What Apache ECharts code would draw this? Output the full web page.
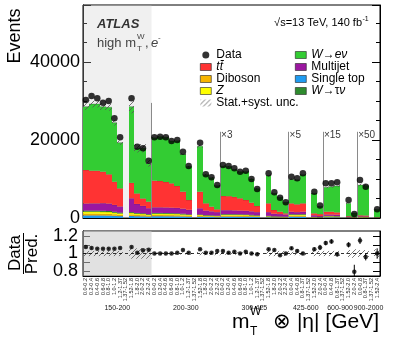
<!DOCTYPE html>
<html>
<head>
<meta charset="utf-8">
<title>high mT W, e- : events per mT x |eta| bin</title>
<script src="https://cdn.jsdelivr.net/npm/echarts@6/dist/echarts.min.js"></script>
<style>
  html, body { margin: 0; padding: 0; background: #fff; }
  #chart { width: 399px; height: 337px; }
</style>
</head>
<body>
<div id="chart"></div>
<script>
// |eta| bins inside each mT bin (the 1.37-1.52 crack is empty)
var etaA = ["0.0-0.2","0.2-0.4","0.4-0.6","0.6-0.8","0.8-1.0","1.0-1.2","1.2-1.37","1.37-1.52","1.52-1.8","1.8-2.0","2.0-2.2","2.2-2.4"];
var etaB = ["0.0-0.4","0.4-0.8","0.8-1.37","1.37-1.52","1.52-2.0","2.0-2.4"];
var etaC = ["0.0-0.8","0.8-1.37","1.37-1.52","1.52-2.4"];
var etaLabels = etaA.concat(etaA, etaA, etaB, etaB, etaC);

var mtLabels = ["150-200","200-300","300-425","425-600","600-900","900-2000"];
var mtCentres = [6, 18, 30, 39, 45, 50];
var scaleLabels = ["×3","×5","×15","×50"];
var scaleEdges = [24, 36, 42, 48];

// events (already multiplied by the factor shown on the plot)
var dataEvents = [
  30250,31280,30690,29560,30000,25560,20690,null,30690,18280,17870,14700,
  20690,20850,20690,19740,20000,17000,13330,null,19310,11200,10430,8460,
  13590,13330,12740,11870,12130,10000,7440,null,11460,6590,5210,4020,
  10590,10170,11460,null,6750,3200,
  8890,8890,9150,null,4610,1000,
  9740,8030,null,2230];

var wenu = [
  16240,17100,17100,16670,17180,15140,11710,null,19540,11570,12870,9820,
  11000,11360,11460,10850,11600,9610,8590,null,11650,7330,7430,6060,
  7680,7600,7090,6820,7280,6080,4440,null,7150,4290,3700,2820,
  6140,6290,7340,null,5130,2000,
  6250,6410,6750,null,3260,1060,
  7760,7650,null,2000];

var ttbar = [
  8600,8380,8380,8070,7500,5950,4650,null,3950,2700,1900,1700,
  6830,6750,6530,6240,5600,4340,2510,null,4250,1860,1200,730,
  3640,3600,3450,3150,2760,2220,1580,null,2260,950,620,300,
  2160,2010,2160,null,500,500,
  720,720,600,null,150,80,
  250,250,null,80];

var multijet = [
  1800,1850,1850,1950,1900,1750,1550,null,3550,2300,1900,1500,
  1440,1440,1420,1400,1400,1300,1150,null,1590,1150,1000,900,
  1000,1000,970,950,950,900,800,null,950,650,600,550,
  600,550,600,null,400,250,
  350,350,350,null,150,60,
  150,120,null,60];

var singleTop = [
  670,670,670,650,630,560,490,null,530,460,420,350,
  460,460,450,440,420,380,330,null,320,260,250,210,
  350,350,340,330,320,280,250,null,190,160,140,120,
  350,330,350,null,100,90,
  190,190,180,null,70,20,
  100,100,null,20];

var diboson = [
  420,420,420,410,400,350,310,null,330,290,260,220,
  290,290,280,280,260,240,210,null,200,170,150,130,
  220,220,220,210,200,180,150,null,120,100,90,80,
  220,210,220,null,70,50,
  120,120,110,null,40,10,
  70,60,null,10];

var zjets = [
  530,530,530,510,500,450,390,null,420,360,340,280,
  360,360,360,350,340,310,270,null,250,210,200,170,
  280,280,270,270,250,220,200,null,160,120,110,100,
  280,270,280,null,90,70,
  160,160,140,null,60,20,
  90,80,null,20];

var wtaunu = [
  280,280,280,280,270,240,210,null,220,190,180,150,
  190,190,190,180,180,170,140,null,130,110,100,90,
  150,150,150,140,130,120,100,null,80,70,60,50,
  150,140,150,null,40,40,
  80,80,70,null,30,10,
  40,40,null,10];

// relative stat.+syst. uncertainty of the prediction
var relUnc = [
  0.03,0.03,0.03,0.03,0.03,0.03,0.03,null,0.06,0.06,0.06,0.06,
  0.012,0.012,0.012,0.012,0.012,0.012,0.012,null,0.02,0.02,0.02,0.02,
  0.015,0.015,0.015,0.015,0.015,0.015,0.015,null,0.03,0.03,0.03,0.03,
  0.02,0.02,0.02,null,0.03,0.03,
  0.03,0.03,0.03,null,0.04,0.05,
  0.04,0.04,null,0.05];

// Data / Pred. panel
var ratio = [
  1.074,1.063,1.055,1.055,1.055,1.055,1.063,null,1.074,1.01,1.037,1.043,
  1.0,1.0,1.0,1.0,1.01,1.04,1.01,null,1.05,1.01,1.01,1.03,
  1.03,1.01,1.02,1.0,1.02,1.0,0.99,null,1.05,1.04,0.98,1.0,
  1.06,1.03,1.0,null,1.05,1.07,
  1.12,1.14,0.99,null,1.10,0.79,
  1.15,0.96,null,1.0];
var ratioErr = [
  0.006,0.006,0.006,0.006,0.006,0.006,0.006,null,0.006,0.006,0.006,0.006,
  0.007,0.007,0.007,0.007,0.007,0.007,0.007,null,0.007,0.007,0.007,0.007,
  0.01,0.01,0.01,0.01,0.01,0.01,0.01,null,0.01,0.01,0.01,0.01,
  0.015,0.015,0.015,null,0.02,0.03,
  0.025,0.025,0.025,null,0.03,0.08,
  0.04,0.04,null,0.06];

var FONT = "'Liberation Sans', Arial, Helvetica, sans-serif";

function hatch() {
  var c = document.createElement('canvas');
  c.width = 5; c.height = 5;
  var g = c.getContext('2d');
  g.strokeStyle = '#555';
  g.lineWidth = 0.8;
  g.beginPath();
  g.moveTo(0, 5); g.lineTo(5, 0);
  g.moveTo(-1, 1); g.lineTo(1, -1);
  g.moveTo(4, 6); g.lineTo(6, 4);
  g.stroke();
  return { image: c, repeat: 'repeat' };
}
var hatchFill = hatch();

// stack from the bottom up
var layers = [
  { name: 'Single top', values: singleTop, color: '#1f9bf0' },
  { name: 'Diboson', values: diboson, color: '#f7b500' },
  { name: 'Z', values: zjets, color: '#ffff00' },
  { name: 'Wtaunu', values: wtaunu, color: '#2e8b2e' },
  { name: 'Multijet', values: multijet, color: '#9b17a0' },
  { name: 'ttbar', values: ttbar, color: '#ff3333' },
  { name: 'Wenu', values: wenu, color: '#33cc33' }
];

var running = etaLabels.map(function () { return 0; });
var layerRows = layers.map(function (l) {
  var rows = [];
  l.values.forEach(function (v, i) {
    if (v == null) return;
    rows.push([i, running[i], running[i] + v]);
    running[i] += v;
  });
  return rows;
});
var pred = running;

var bandRows = [], rBandRows = [], errRows = [];
relUnc.forEach(function (u, i) {
  if (u == null) return;
  bandRows.push([i, pred[i] * (1 - u), pred[i] * (1 + u)]);
  rBandRows.push([i, 1 - u, 1 + u]);
});
ratio.forEach(function (r, i) {
  if (r != null) errRows.push([i, r - ratioErr[i], r + ratioErr[i]]);
});

// histogram box from bin edge i to i+1, snapped to whole pixels so neighbours join
function boxItem(fill, outline) {
  return function (params, api) {
    var i = api.value(0);
    var a = api.coord([i, api.value(1)]);
    var b = api.coord([i + 1, api.value(2)]);
    var x0 = Math.round(a[0]), x1 = Math.round(b[0]);
    var rect = {
      type: 'rect',
      shape: { x: x0, y: b[1], width: x1 - x0, height: a[1] - b[1] },
      style: { fill: fill }
    };
    if (!outline) return rect;
    return {
      type: 'group',
      children: [rect, {
        type: 'line',
        shape: { x1: x0, y1: b[1], x2: x1, y2: b[1] },
        style: { stroke: 'rgba(40,40,40,0.45)', lineWidth: 0.6 }
      }]
    };
  };
}

function stackSeries(l, k) {
  return {
    name: l.name, type: 'custom', xAxisIndex: 3, yAxisIndex: 0, data: layerRows[k],
    encode: { x: 0, y: [1, 2] }, itemStyle: { color: l.color },
    renderItem: boxItem(l.color, true), z: 2, silent: true, clip: true
  };
}

var legendNames = {
  'Data': 'Data',
  'ttbar': '{i|tt\u0304}',
  'Diboson': 'Diboson',
  'Z': '{i|Z}',
  'Stat.+syst. unc.': 'Stat.+syst. unc.',
  'Wenu': '{i|W}\u2192{i|e\u03bd}',
  'Multijet': 'Multijet',
  'Single top': 'Single top',
  'Wtaunu': '{i|W}\u2192\u03c4{i|\u03bd}'
};
var boxBorder = { borderColor: '#222', borderWidth: 0.6 };
var legendText = {
  fontSize: 12, fontFamily: FONT, color: '#000', lineHeight: 11,
  rich: { i: { fontStyle: 'italic', fontSize: 12, fontFamily: FONT, lineHeight: 11 } }
};

function ratioLabelAxis(values) {
  return {
    type: 'value', gridIndex: 1, position: 'left', offset: 0, min: 0.74, max: 1.26,
    axisLine: { show: false }, axisTick: { show: false }, splitLine: { show: false },
    axisLabel: {
      customValues: values, fontSize: 18, color: '#000', margin: 5, fontFamily: FONT,
      formatter: function (v) { return Math.abs(v - 1) < 1e-6 ? '1' : v.toFixed(1); }
    }
  };
}

var chart = echarts.init(document.getElementById('chart'), null, { renderer: 'canvas' });

var option = {
  animation: false,
  backgroundColor: '#fff',
  textStyle: { fontFamily: FONT },
  grid: [
    { left: 83, right: 19, top: 5, height: 213, show: true, borderColor: '#000', borderWidth: 1, backgroundColor: 'transparent' },
    { left: 83, right: 19, top: 231, height: 45, show: true, borderColor: '#000', borderWidth: 1, backgroundColor: 'transparent' }
  ],
  legend: [
    {
      left: 200, top: 49, orient: 'vertical', itemWidth: 11, itemHeight: 7, itemGap: 0, padding: 0,
      selectedMode: false, textStyle: legendText,
      formatter: function (n) { return legendNames[n]; },
      data: [
        { name: 'Data', icon: 'circle', itemStyle: { color: '#000' } },
        { name: 'ttbar', icon: 'rect', itemStyle: boxBorder },
        { name: 'Diboson', icon: 'rect', itemStyle: boxBorder },
        { name: 'Z', icon: 'rect', itemStyle: boxBorder },
        { name: 'Stat.+syst. unc.', icon: 'rect' }
      ]
    },
    {
      left: 295, top: 49, orient: 'vertical', itemWidth: 11, itemHeight: 7, itemGap: 0, padding: 0,
      selectedMode: false, textStyle: legendText,
      formatter: function (n) { return legendNames[n]; },
      data: [
        { name: 'Wenu', icon: 'rect', itemStyle: boxBorder },
        { name: 'Multijet', icon: 'rect', itemStyle: boxBorder },
        { name: 'Single top', icon: 'rect', itemStyle: boxBorder },
        { name: 'Wtaunu', icon: 'rect', itemStyle: boxBorder }
      ]
    }
  ],
  xAxis: [
    { // 0: main bins (data points)
      type: 'category', gridIndex: 0, data: etaLabels,
      axisLine: { lineStyle: { color: '#000' } }, axisTick: { show: false }, axisLabel: { show: false },
      splitLine: { show: false }
    },
    { // 1: ratio bins with |eta| labels
      type: 'category', gridIndex: 1, data: etaLabels,
      axisLine: { lineStyle: { color: '#000' } },
      axisTick: { inside: true, length: 3, interval: 0, lineStyle: { color: '#000', width: 0.8 } },
      axisLabel: { interval: 0, rotate: 90, fontSize: 5.5, color: '#222', margin: 2, fontFamily: FONT },
      splitLine: { show: false }
    },
    { // 2: ratio top ticks
      type: 'category', gridIndex: 1, position: 'top', data: etaLabels,
      axisLine: { show: false },
      axisTick: { inside: true, length: 3, interval: 0, lineStyle: { color: '#000', width: 0.8 } },
      axisLabel: { show: false }, splitLine: { show: false }
    },
    { // 3: continuous bin edges on the main panel (stack, band, shading, scale lines)
      type: 'value', gridIndex: 0, min: 0, max: 52, show: false, splitLine: { show: false }
    },
    { // 4: continuous bin edges on the ratio panel (band, shading, mT group labels)
      type: 'value', gridIndex: 1, min: 0, max: 52, show: false, splitLine: { show: false }
    }
  ],
  yAxis: [
    { // 0: events
      type: 'value', gridIndex: 0, min: 0, max: 54600, interval: 20000,
      axisLine: { show: true, lineStyle: { color: '#000' } },
      axisTick: { inside: true, length: 8, lineStyle: { color: '#000' } },
      minorTick: { show: true, splitNumber: 4, length: 4, lineStyle: { color: '#000' } },
      splitLine: { show: false },
      axisLabel: {
        fontSize: 18, color: '#000', margin: 3, fontFamily: FONT, showMaxLabel: false,
        formatter: function (v) { return v > 50000 ? '' : String(v); }
      }
    },
    { // 1: right-hand ticks
      type: 'value', gridIndex: 0, position: 'right', min: 0, max: 54600, interval: 20000,
      axisLine: { show: true, lineStyle: { color: '#000' } },
      axisTick: { inside: true, length: 8, lineStyle: { color: '#000' } },
      minorTick: { show: true, splitNumber: 4, length: 4, lineStyle: { color: '#000' } },
      splitLine: { show: false }, axisLabel: { show: false }
    },
    { // 2: data / pred, axis line and ticks
      type: 'value', gridIndex: 1, position: 'left', min: 0.74, max: 1.26,
      axisLine: { show: true, lineStyle: { color: '#000' } },
      axisTick: { inside: true, length: 7, customValues: [0.8, 0.9, 1.0, 1.1, 1.2], lineStyle: { color: '#000' } },
      splitLine: { show: false },
      axisLabel: { show: false }
    },
    { // 3: right-hand ticks of ratio
      type: 'value', gridIndex: 1, position: 'right', min: 0.74, max: 1.26,
      axisLine: { show: true, lineStyle: { color: '#000' } },
      axisTick: { inside: true, length: 7, customValues: [0.8, 0.9, 1.0, 1.1, 1.2], lineStyle: { color: '#000' } },
      splitLine: { show: false }, axisLabel: { show: false }
    },
    ratioLabelAxis([0.8, 1.2]), // 4
    ratioLabelAxis([1.0])       // 5
  ],
  series: layers.map(stackSeries).concat([
    {
      name: 'Stat.+syst. unc.', type: 'custom', xAxisIndex: 3, yAxisIndex: 0, data: bandRows,
      encode: { x: 0, y: [1, 2] }, itemStyle: { color: hatchFill },
      renderItem: boxItem(hatchFill, false), z: 3, silent: true, clip: true
    },
    {
      name: 'Data', type: 'scatter', xAxisIndex: 0, yAxisIndex: 0, data: dataEvents,
      symbolSize: 6.5, itemStyle: { color: '#000' }, z: 5, silent: true
    },
    { // shaded first mT bin, scale factor lines and labels on the main panel
      type: 'scatter', xAxisIndex: 3, yAxisIndex: 0, z: 10, silent: true,
      data: scaleEdges.map(function (x) { return [x, 21300]; }),
      symbolSize: 0,
      label: {
        show: true, position: 'right', distance: 1, fontSize: 10, color: '#000', fontFamily: FONT,
        formatter: function (p) { return scaleLabels[p.dataIndex]; }
      },
      markArea: {
        silent: true,
        itemStyle: { color: 'rgba(200,200,200,0.28)' },
        data: [[{ xAxis: 0 }, { xAxis: 12 }]]
      },
      markLine: {
        silent: true, symbol: 'none', label: { show: false },
        lineStyle: { color: '#8a8a8a', width: 1, type: 'solid' },
        data: [[{ coord: [12, 0] }, { coord: [12, 29500] }]].concat(
          scaleEdges.map(function (x) { return [{ coord: [x, 0] }, { coord: [x, 22100] }]; }))
      }
    },
    {
      name: 'rBand', type: 'custom', xAxisIndex: 4, yAxisIndex: 2, data: rBandRows,
      encode: { x: 0, y: [1, 2] }, renderItem: boxItem(hatchFill, false), z: 2, silent: true, clip: true
    },
    {
      type: 'custom', xAxisIndex: 1, yAxisIndex: 2, data: errRows, z: 4, silent: true, clip: true,
      encode: { x: 0, y: [1, 2] },
      renderItem: function (params, api) {
        var lo = api.coord([api.value(0), api.value(1)]);
        var hi = api.coord([api.value(0), api.value(2)]);
        return { type: 'line', shape: { x1: lo[0], y1: lo[1], x2: hi[0], y2: hi[1] }, style: { stroke: '#000', lineWidth: 1 } };
      }
    },
    {
      name: 'ratio', type: 'scatter', xAxisIndex: 1, yAxisIndex: 2, data: ratio,
      symbolSize: 4.5, itemStyle: { color: '#000' }, z: 5, silent: true,
      markLine: {
        silent: true, symbol: 'none', label: { show: false },
        lineStyle: { color: '#000', width: 0.8, type: [3, 3] },
        data: [{ yAxis: 1 }]
      }
    },
    { // shaded first mT bin on the ratio panel
      type: 'scatter', xAxisIndex: 4, yAxisIndex: 2, data: [[0, 1]], symbolSize: 0, z: 10, silent: true,
      markArea: {
        silent: true,
        itemStyle: { color: 'rgba(200,200,200,0.55)' },
        data: [[{ xAxis: 0 }, { xAxis: 12 }]]
      }
    },
    { // mT group labels under the |eta| labels
      type: 'custom', xAxisIndex: 4, yAxisIndex: 2, clip: false, silent: true, z: 6,
      data: mtCentres.map(function (c, k) { return [c, 0.74, k]; }),
      encode: { x: 0, y: 1 },
      renderItem: function (params, api) {
        var p = api.coord([api.value(0), api.value(1)]);
        return {
          type: 'text', x: p[0], y: p[1] + 32,
          style: { text: mtLabels[api.value(2)], fontSize: 7, fontFamily: FONT, fill: '#222', align: 'center', verticalAlign: 'middle' }
        };
      }
    }
  ]),
  graphic: [
    { type: 'text', x: 15, y: 36, rotation: Math.PI / 2, z: 100,
      style: { text: 'Events', fontSize: 18, fontFamily: FONT, fill: '#000', align: 'center', verticalAlign: 'middle' } },
    { type: 'text', x: 15, y: 253, rotation: Math.PI / 2, z: 100,
      style: { text: 'Data', fontSize: 17, fontFamily: FONT, fill: '#000', align: 'center', verticalAlign: 'middle' } },
    { type: 'line', z: 100, shape: { x1: 23.5, y1: 233, x2: 23.5, y2: 274 }, style: { stroke: '#000', lineWidth: 1 } },
    { type: 'text', x: 32, y: 254, rotation: Math.PI / 2, z: 100,
      style: { text: 'Pred.', fontSize: 17, fontFamily: FONT, fill: '#000', align: 'center', verticalAlign: 'middle' } },

    { type: 'text', x: 97, y: 24, z: 100,
      style: { text: 'ATLAS', fontSize: 13, fontWeight: 'bold', fontStyle: 'italic', fontFamily: FONT, fill: '#333', align: 'left', verticalAlign: 'middle' } },
    { type: 'text', x: 97, y: 43, z: 100,
      style: { text: 'high m', fontSize: 13, fontFamily: FONT, fill: '#444', align: 'left', verticalAlign: 'middle' } },
    { type: 'text', x: 137, y: 37, z: 100,
      style: { text: 'W', fontSize: 8, fontFamily: FONT, fill: '#444', align: 'left', verticalAlign: 'middle' } },
    { type: 'text', x: 137, y: 49, z: 100,
      style: { text: 'T', fontSize: 8, fontFamily: FONT, fill: '#444', align: 'left', verticalAlign: 'middle' } },
    { type: 'text', x: 145, y: 43, z: 100,
      style: { text: ',', fontSize: 13, fontFamily: FONT, fill: '#444', align: 'left', verticalAlign: 'middle' } },
    { type: 'text', x: 151, y: 43, z: 100,
      style: { text: 'e', fontSize: 13, fontStyle: 'italic', fontFamily: FONT, fill: '#444', align: 'left', verticalAlign: 'middle' } },
    { type: 'text', x: 158, y: 38, z: 100,
      style: { text: '-', fontSize: 8, fontFamily: FONT, fill: '#444', align: 'left', verticalAlign: 'middle' } },

    { type: 'text', x: 362, y: 23, z: 100,
      style: { text: '\u221as=13 TeV, 140 fb', fontSize: 11, fontFamily: FONT, fill: '#000', align: 'right', verticalAlign: 'middle' } },
    { type: 'text', x: 362.5, y: 19, z: 100,
      style: { text: '-1', fontSize: 7, fontFamily: FONT, fill: '#000', align: 'left', verticalAlign: 'middle' } },

    { type: 'text', x: 232, y: 322, z: 100,
      style: { text: 'm', fontSize: 21, fontFamily: FONT, fill: '#000', align: 'left', verticalAlign: 'middle' } },
    { type: 'text', x: 250, y: 312, z: 100,
      style: { text: 'W', fontSize: 12, fontFamily: FONT, fill: '#000', align: 'left', verticalAlign: 'middle' } },
    { type: 'text', x: 250, y: 332, z: 100,
      style: { text: 'T', fontSize: 12, fontFamily: FONT, fill: '#000', align: 'left', verticalAlign: 'middle' } },
    { type: 'text', x: 379, y: 322, z: 100,
      style: { text: '\u2297 |\u03b7| [GeV]', fontSize: 21, fontFamily: FONT, fill: '#000', align: 'right', verticalAlign: 'middle' } }
  ]
};

chart.setOption(option);
window.addEventListener('resize', function () { chart.resize(); });
</script>
</body>
</html>
